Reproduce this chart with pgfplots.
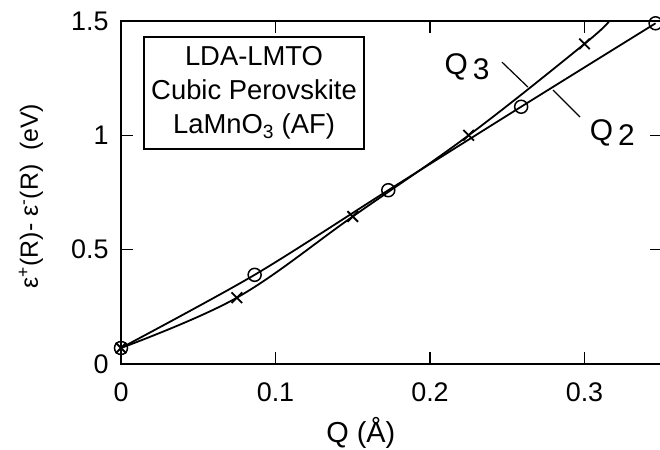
\documentclass[border=0pt]{standalone}
\usepackage{fontspec}
\setmainfont{Liberation Sans}
\usepackage{pgfplots}
\pgfplotsset{compat=1.18}
\begin{document}
\begin{tikzpicture}
\begin{axis}[
  at={(0,0)}, anchor=origin,
  scale only axis, width=540.75bp, height=343bp,
  xmin=0, xmax=0.35, ymin=0, ymax=1.5,
  clip=false,
  axis line style={line width=1.6bp},
  xtick={0,0.1,0.2,0.3}, xticklabels={0,0.1,0.2,0.3},
  ytick={0,0.5,1,1.5}, yticklabels={0,0.5,1,1.5},
  tick align=inside, major tick length=12bp,
  tick style={line width=1.4bp, black},
  ticklabel style={font=\fontsize{27}{30}\selectfont},
  xticklabel style={yshift=-15bp},
  yticklabel style={xshift=-9bp},
  xlabel={Q (Å)},
  xlabel style={at={(axis description cs:0.4435,0)}, anchor=base, yshift=-78bp, font=\fontsize{29}{32}\selectfont},
  ylabel={ε\textsuperscript{+}(R)-\ ε\textsuperscript{-}(R)\ \ (eV)},
  ylabel style={at={(axis description cs:-0.1535,0.49)}, anchor=base, font=\fontsize{25}{28}\selectfont},
  /pgf/number format/assume math mode=true,
]
% Q3 (crosses)
\addplot[line width=1.8bp, black, smooth, tension=0.6, mark=x, mark size=7.5bp, mark indices={1,2,3,4,5},
  mark options={line width=1.8bp}]
  coordinates {(0,0.07) (0.075,0.29) (0.15,0.645) (0.225,1.0) (0.30,1.40) (0.316,1.5)};
% Q2 (circles)
\addplot[line width=1.8bp, black, smooth, mark=o, mark size=6.5bp,
  mark options={fill=white, line width=1.5bp}]
  coordinates {(0,0.07) (0.0865,0.39) (0.173,0.76) (0.259,1.125) (0.346,1.49)};
% leader lines and labels
\draw[line width=1.2bp] (axis cs:0.2466,1.320) -- (axis cs:0.2634,1.211);
\draw[line width=1.2bp] (axis cs:0.2796,1.198) -- (axis cs:0.2971,1.080);
\node[font=\fontsize{30}{32}\selectfont] at (axis cs:0.224,1.30) {Q\,\raisebox{-0.3ex}{3}};
\node[font=\fontsize{30}{32}\selectfont] at (axis cs:0.318,1.01) {Q\,\raisebox{-0.3ex}{2}};
% text box
\node[draw, line width=1.6bp, minimum width=220bp, minimum height=112bp, align=center,
  font=\fontsize{27.5}{34}\selectfont] at (axis cs:0.0861,1.185)
  {LDA-LMTO\\Cubic Perovskite\\LaMnO\textsubscript{3} (AF)};
\end{axis}
\pgfresetboundingbox
\useasboundingbox (-121bp,-86bp) rectangle (539bp,364bp);
\end{tikzpicture}
\end{document}
